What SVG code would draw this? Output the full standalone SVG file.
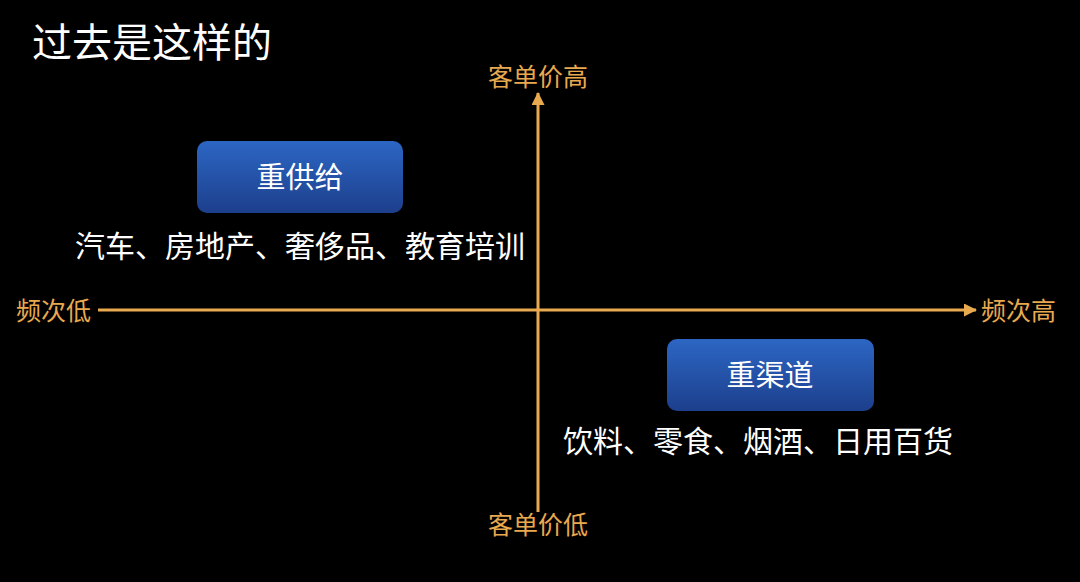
<svg xmlns="http://www.w3.org/2000/svg" width="1080" height="582" viewBox="0 0 1080 582">
<defs>
<linearGradient id="boxGrad" x1="0" y1="0" x2="0" y2="1">
<stop offset="0" stop-color="#2c66c4"/>
<stop offset="1" stop-color="#1d3f8c"/>
</linearGradient>
<marker id="arr" markerWidth="13" markerHeight="13" refX="12" refY="6.5" orient="auto" markerUnits="userSpaceOnUse">
<path d="M0,0 L13,6.5 L0,13 Z" fill="#e9a94f"/>
</marker>
<style>
.cjk{font-family:"Noto Sans CJK SC","Noto Sans",sans-serif;}
.title{fill:#ffffff;font-size:40px;}
.axis{fill:#e9a94f;font-size:25px;}
.box{fill:url(#boxGrad);}
.boxt{fill:#ffffff;font-size:29px;text-anchor:middle;}
.desc{fill:#ffffff;font-size:30px;}
.ax{stroke:#e9a94f;stroke-width:3;fill:none;}
</style>
</defs>
<rect width="1080" height="582" fill="#000000"/>
<text class="cjk title" x="32" y="57">过去是这样的</text>
<g id="connectors">
<line class="ax" x1="538" y1="512" x2="538" y2="93" marker-end="url(#arr)"/>
<line class="ax" x1="98" y1="310" x2="976" y2="310" marker-end="url(#arr)"/>
</g>
<g id="axis-labels">
<text class="cjk axis" x="538" y="86" text-anchor="middle">客单价高</text>
<text class="cjk axis" x="538" y="534" text-anchor="middle">客单价低</text>
<text class="cjk axis" x="16" y="320">频次低</text>
<text class="cjk axis" x="981" y="320">频次高</text>
</g>
<g id="node-supply">
<rect class="box" x="197" y="141" width="206" height="72" rx="10"/>
<text class="cjk boxt" x="300" y="188">重供给</text>
<text class="cjk desc" x="75" y="257">汽车、房地产、奢侈品、教育培训</text>
</g>
<g id="node-channel">
<rect class="box" x="667" y="339" width="207" height="72" rx="10"/>
<text class="cjk boxt" x="770" y="386">重渠道</text>
<text class="cjk desc" x="563" y="452">饮料、零食、烟酒、日用百货</text>
</g>
</svg>
